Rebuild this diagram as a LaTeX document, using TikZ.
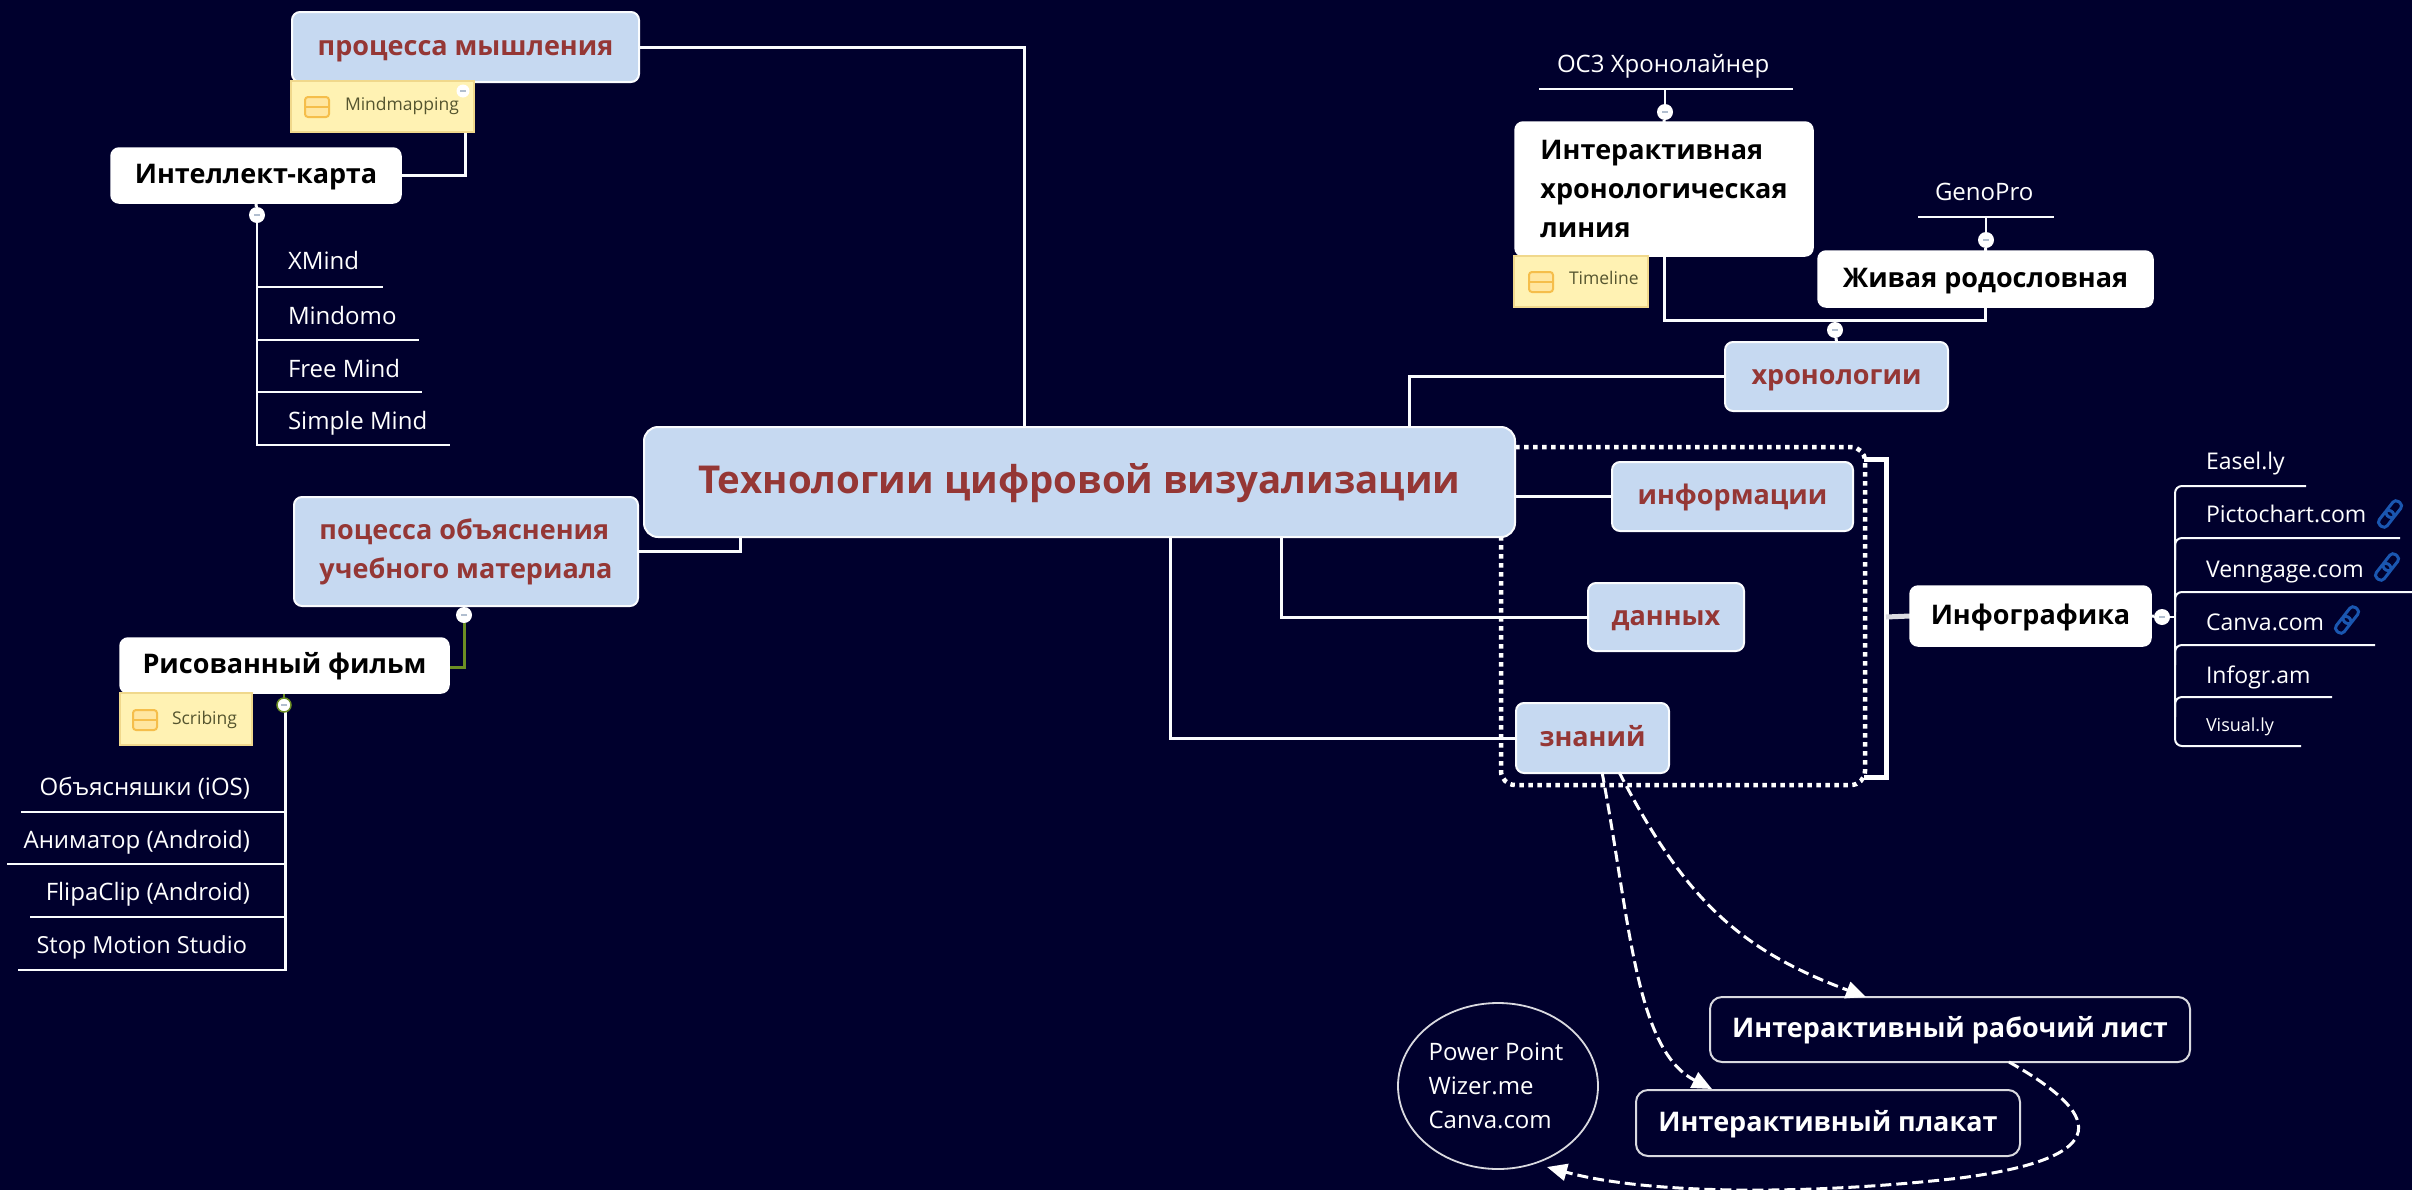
\documentclass[tikz,border=0pt]{standalone}
\usepackage{fontspec}
\setmainfont{Open Sans}
\usetikzlibrary{calc,arrows.meta,shapes.geometric}
\pgfdeclarelayer{bg}
\pgfsetlayers{bg,main}
\definecolor{night}{HTML}{00002D}
\definecolor{paleblue}{HTML}{C6D9F1}
\definecolor{brick}{HTML}{953735}
\definecolor{notefill}{HTML}{FFF2B3}
\definecolor{noteedge}{HTML}{F0D88C}
\definecolor{iconedge}{HTML}{F5BE4B}
\definecolor{iconfill}{HTML}{FFE6A0}
\definecolor{notetext}{HTML}{55552F}
\definecolor{olive}{HTML}{6B8E23}
\definecolor{linkblue}{HTML}{1A56B0}
\tikzset{
  x=1pt,y=-1pt,
  every node/.style={inner sep=0pt,outer sep=0pt},
  bluebox/.style={rectangle,rounded corners=8pt,draw=white!92!paleblue,line width=2pt,fill=paleblue,text=brick,
    font=\bfseries\fontsize{27}{39}\selectfont,align=left},
  whitebox/.style={rectangle,rounded corners=8pt,draw=white,line width=1.5pt,fill=white,text=black,
    font=\bfseries\fontsize{27}{39}\selectfont,align=left},
  darkbox/.style={rectangle,rounded corners=12pt,draw=white!85!night,line width=2pt,fill=night,text=white,
    font=\bfseries\fontsize{27}{39}\selectfont},
  oneline/.style={text height=20pt,text depth=4pt},
  titlebox/.style={bluebox,rounded corners=14pt,font=\bfseries\fontsize{38.4}{48}\selectfont,text height=29pt,text depth=6pt},
  notebox/.style={rectangle,draw=noteedge,line width=1.5pt,fill=notefill},
  notetxt/.style={text=notetext,font=\fontsize{17.5}{20}\selectfont,anchor=base west},
  leaf/.style={text=white,font=\fontsize{24}{28}\selectfont,anchor=base west},
  leafr/.style={leaf,anchor=base east},
  infoleaf/.style={leaf,font=\fontsize{23}{28}\selectfont},
  smallleaf/.style={leaf,font=\fontsize{18}{22}\selectfont},
  collapse/.style={circle,minimum size=16pt,fill=white,
    path picture={\draw[line width=1.5pt,color=paleblue!70!gray]
      ([xshift=-3pt]path picture bounding box.center) -- ([xshift=3pt]path picture bounding box.center);}},
  conn/.style={draw=white!92!paleblue,line width=3pt,line join=miter},
  under/.style={draw=white!92!paleblue,line width=2pt},
  thinline/.style={draw=white!92!paleblue,line width=2.5pt},
  dots/.style={draw=white,line width=4.5pt,dash pattern=on 4.5pt off 4.5pt},
  relation/.style={draw=white,line width=3pt,dash pattern=on 11pt off 5pt,
    -{Triangle[length=20pt,width=17pt,fill=white]}},
}
\newcommand{\cornerbox}[7]{%
  \pgfmathsetmacro{\bxc}{(#3+#5)/2}\pgfmathsetmacro{\byc}{(#4+#6)/2}%
  \pgfmathsetmacro{\bxw}{#5-#3}\pgfmathsetmacro{\byh}{#6-#4}%
  \node[#1,minimum width=\bxw pt,minimum height=\byh pt] (#2) at (\bxc,\byc) {#7};}
\newcommand{\noteicon}[2]{%
  \draw[draw=iconedge,fill=iconfill,line width=2pt,rounded corners=3pt] (#1-12,#2-10) rectangle (#1+12,#2+10);
  \draw[draw=iconedge,line width=2pt] (#1-12,#2) -- (#1+12,#2);}
\newcommand{\chain}[2]{%
  \begin{scope}[shift={(#1,#2)},rotate=52]
    \draw[linkblue,line width=3pt,rounded corners=4pt] (-15,-5) rectangle (3,5);
    \draw[linkblue,line width=3pt,rounded corners=4pt] (-3,-5) rectangle (15,5);
  \end{scope}}
\begin{document}
\begin{tikzpicture}
\useasboundingbox (0,0) rectangle (2412,1189);
\begin{pgfonlayer}{bg}
\fill[night] (-3,-3) rectangle (2415,1193);
\end{pgfonlayer}

% central and first-level nodes
\cornerbox{titlebox}{tech}{644}{427}{1515}{537}{Технологии цифровой визуализации}
\cornerbox{bluebox,oneline}{think}{292}{12}{639}{82}{процесса мышления}
\cornerbox{bluebox}{explain}{294}{497}{638}{606}{поцесса объяснения\\учебного материала}
\cornerbox{bluebox,oneline}{chron}{1725}{342}{1948}{411}{хронологии}
\cornerbox{bluebox,oneline}{info}{1612}{462}{1853}{531}{информации}
\cornerbox{bluebox,oneline}{data}{1588}{583}{1744}{651}{данных}
\cornerbox{bluebox,oneline}{know}{1516}{703}{1669}{773}{знаний}

% second-level nodes
\cornerbox{whitebox,oneline}{imap}{111}{148}{401}{203}{Интеллект-карта}
\cornerbox{whitebox,oneline}{film}{120}{638}{449}{693}{Рисованный фильм}
\cornerbox{whitebox}{iline}{1515}{122}{1813}{256}{Интерактивная\\хронологическая\\линия}
\cornerbox{whitebox,oneline}{tree}{1818}{251}{2153}{307}{Живая родословная}
\cornerbox{whitebox,oneline}{igraph}{1910}{586}{2151}{646}{Инфографика}
\cornerbox{darkbox,oneline}{sheet}{1710}{997}{2190}{1062}{Интерактивный рабочий лист}
\cornerbox{darkbox,oneline}{poster}{1636}{1090}{2020}{1156}{Интерактивный плакат}
\node[ellipse,draw=white!85!night,line width=1.8pt,minimum width=200pt,minimum height=166pt,
  text=white,font=\fontsize{24}{34}\selectfont,align=left] (tools) at (1498,1086)
  {Power Point\hspace*{4pt}\\Wizer.me\\Canva.com};

% notes
\cornerbox{notebox}{nmm}{291}{81}{474}{132}{}
\noteicon{317}{107}
\node[notetxt] (nmmt) at (345,110) {Mindmapping};
\node[collapse,minimum size=13pt] (nmmc) at (463,91) {};
\cornerbox{notebox}{ntl}{1514}{256}{1648}{307}{}
\noteicon{1541}{282}
\node[notetxt] (ntlt) at (1569,284) {Timeline};
\cornerbox{notebox}{nsc}{120}{693}{252}{745}{}
\noteicon{145}{720}
\node[notetxt] (nsct) at (172,724) {Scribing};

% collapse marks
\node[collapse] (c1) at (257,215) {};
\node[collapse] (c2) at (464,615) {};
\node[collapse,draw=olive,line width=1.5pt,minimum size=14pt] (c3) at (284,705) {};
\node[collapse] (c4) at (1665,112) {};
\node[collapse] (c5) at (1986,240) {};
\node[collapse] (c6) at (1835,330) {};
\node[collapse] (c7) at (2162,617) {};

% leaves
\node[leaf] (l1) at (288,269) {XMind};
\node[leaf] (l2) at (288,324) {Mindomo};
\node[leaf] (l3) at (288,377) {Free Mind};
\node[leaf] (l4) at (288,429) {Simple Mind};
\node[leafr] (r1) at (250,795) {Объясняшки (iOS)};
\node[leafr] (r2) at (250,848) {Аниматор (Android)};
\node[leafr] (r3) at (250,900) {FlipaClip (Android)};
\node[leafr,font=\fontsize{23.5}{28}\selectfont] (r4) at (247,953) {Stop Motion Studio};
\node[leaf] (t1) at (1557,72) {ОС3 Хронолайнер};
\node[leaf] (t2) at (1935,200) {GenoPro};
\node[infoleaf] (g1) at (2206,469) {Easel.ly};
\node[infoleaf] (g2) at (2206,522) {Pictochart.com};
\node[infoleaf] (g3) at (2206,577) {Venngage.com};
\node[infoleaf] (g4) at (2206,630) {Canva.com};
\node[infoleaf] (g5) at (2206,683) {Infogr.am};
\node[smallleaf] (g6) at (2206,731) {Visual.ly};
\chain{2390}{514}
\chain{2387}{567}
\chain{2347}{620}

% free ends
\coordinate (techA) at (1024,427);
\coordinate (techB) at (740,537);
\coordinate (techC) at (1409,427);
\coordinate (techD) at (1281,537);
\coordinate (techE) at (1170,537);
\coordinate (nmmS) at (465,132);
\coordinate (jct) at (1835,320);
\coordinate (filmE) at (449,667);
\coordinate (braceA) at (1864,459);
\coordinate (braceB) at (1864,777);
\coordinate (braceM) at (1886,617);
\coordinate (knowA) at (1602,772);
\coordinate (knowB) at (1619,772);
\coordinate (posterN) at (1712,1089);
\coordinate (sheetN) at (1866,997);
\coordinate (sheetS) at (2009,1062);
\coordinate (toolsE) at (1547,1167);

\begin{pgfonlayer}{bg}
% dotted boundary
\draw[dots,rounded corners=14pt] (1515,447) -- (1865,447) -- (1865,785) -- (1501,785) -- (1501,537);
% bracket
\draw[draw=white,line width=5pt,line join=miter] (braceA) -| (braceM) |- (braceB);
\draw[draw=white!85!night,line width=5pt] (braceM) -- (igraph.west);
% main connectors
\draw[conn] (think.east) -| (techA);
\draw[conn] (explain.east |- 0,551) -| (techB);
\draw[conn] (chron.west) -| (techC);
\draw[conn] (tech.east |- info.west) -- (info.west);
\draw[conn] (techD) |- (data.west);
\draw[conn] (techE) |- (know.west);
\draw[conn] (imap.east) -| (nmmS);
\draw[conn] (iline.south) |- (jct) -| (tree.south);
\draw[conn] (jct) -- (c6) -- (chron.north);
\draw[conn] (iline.north) -- (c4);
\draw[conn] (tree.north) -- (c5);
\draw[conn] (explain.south) -- (c2);
\draw[draw=olive,line width=3pt] (c2.south) |- (filmE);
\draw[conn] (imap.south) -- (c1);
\draw[draw=olive,line width=2pt] (c3.north) -- (c3.north |- film.south);
\draw[conn] (igraph.east) -- (c7);
% Intellect-map leaves
\draw[thinline] (c1.south) -- (257,445) -- (450,445);
\draw[under] (257,287) -- (383,287);
\draw[under] (257,340) -- (419,340);
\draw[under] (257,392) -- (422,392);
% Film leaves
\draw[thinline] (c3.south -| 285.5,0) -- (285.5,970) -- (18,970);
\draw[under] (285.5,812) -- (21,812);
\draw[under] (285.5,864) -- (7,864);
\draw[under] (285.5,917) -- (30,917);
% chronology leaves
\draw[under] (1539,89) -- (1793,89);
\draw[conn,line width=2pt] (c4) -- (1665,89);
\draw[under] (1918,217) -- (2054,217);
\draw[conn,line width=2pt] (c5) -- (1986,217);
% infographic leaves
\draw[thinline] (c7) -- (2175,617);
\draw[under,rounded corners=7pt] (2306,486) -- (2175,486) -- (2175,746) -- (2301,746);
\draw[under,rounded corners=7pt] (2400,538) -- (2175,538) -- (2175,560);
\draw[under,rounded corners=7pt] (2412,592) -- (2175,592) -- (2175,612);
\draw[under,rounded corners=7pt] (2375,645) -- (2175,645) -- (2175,665);
\draw[under,rounded corners=7pt] (2332,697) -- (2175,697) -- (2175,717);
\end{pgfonlayer}

% relations
\draw[relation] (knowA) .. controls (1630,920) and (1635,1050) .. (posterN);
\draw[relation] (knowB) .. controls (1685,900) and (1740,950) .. (sheetN);
\draw[relation] (sheetS) .. controls (2085,1105) and (2135,1155) .. (1960,1178)
  .. controls (1810,1195) and (1650,1195) .. (toolsE);
\end{tikzpicture}
\end{document}
